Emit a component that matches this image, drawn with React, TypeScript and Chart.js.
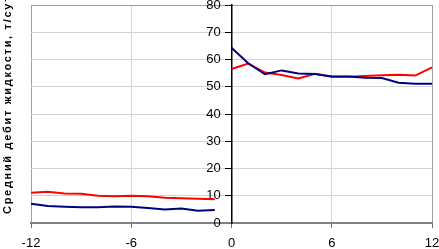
import React, { useEffect, useRef } from "react";
import { Chart, registerables } from "chart.js";

Chart.register(...registerables);

const monthsBefore = [-12, -11, -10, -9, -8, -7, -6, -5, -4, -3, -2, -1];
const redBefore = [11.1, 11.5, 10.8, 10.7, 10.0, 9.8, 10.0, 9.8, 9.3, 9.1, 8.9, 8.7];
const blueBefore = [7.1, 6.2, 6.0, 5.8, 5.8, 6.1, 6.0, 5.5, 5.0, 5.3, 4.5, 4.8];

const monthsAfter = [0, 1, 2, 3, 4, 5, 6, 7, 8, 9, 10, 11, 12];
const redAfter = [56.5, 58.5, 55.2, 54.3, 53.0, 54.8, 53.7, 53.7, 53.9, 54.2, 54.4, 54.1, 57.1];
const blueAfter = [64.3, 58.6, 54.6, 56.0, 54.9, 54.7, 53.8, 53.8, 53.3, 53.2, 51.5, 51.1, 51.1];

const xTicks = [-12, -6, 0, 6, 12];
const yMin = 0;
const yMax = 80;
const yStep = 10;
const yTitle = "Средний дебит жидкости, т/сут";

const RED = "#ff0000";
const BLUE = "#000080";
const FONT = "'Liberation Sans', Arial, sans-serif";

function pts(xs: number[], ys: number[]) {
  return xs.map((x, i) => ({ x, y: ys[i] }));
}

const titlePlugin = {
  id: "leftTitle",
  afterDraw(chart: any) {
    const ctx = chart.ctx;
    ctx.save();
    ctx.translate(8, 214);
    ctx.rotate(-Math.PI / 2);
    ctx.font = `bold 11px ${FONT}`;
    try {
      (ctx as any).letterSpacing = "1.7px";
    } catch (e) {}
    ctx.fillStyle = "#000";
    ctx.textAlign = "left";
    ctx.textBaseline = "middle";
    ctx.fillText(yTitle, 0, 0);
    ctx.restore();
  },
};

export default function App() {
  const ref = useRef<HTMLCanvasElement | null>(null);

  useEffect(() => {
    if (!ref.current) return;
    const lineStyle = {
      borderWidth: 2,
      pointRadius: 0,
      pointHoverRadius: 0,
      tension: 0,
      fill: false,
    };
    const chart = new Chart(ref.current, {
      type: "line",
      data: {
        datasets: [
          { ...lineStyle, data: pts(monthsBefore, blueBefore), borderColor: BLUE },
          { ...lineStyle, data: pts(monthsAfter, blueAfter), borderColor: BLUE },
          { ...lineStyle, data: pts(monthsBefore, redBefore), borderColor: RED },
          { ...lineStyle, data: pts(monthsAfter, redAfter), borderColor: RED },
        ],
      },
      options: {
        responsive: false,
        animation: false,
        events: [],
        layout: {
          autoPadding: false,
          padding: { left: 31, right: 7, top: 5, bottom: 0 },
        },
        plugins: {
          legend: { display: false },
          tooltip: { enabled: false },
          title: { display: false },
        },
        scales: {
          x: {
            type: "linear",
            min: xTicks[0],
            max: xTicks[xTicks.length - 1],
            afterBuildTicks: (scale: any) => {
              scale.ticks = xTicks.map((v) => ({ value: v }));
            },
            afterFit: (scale: any) => {
              scale.height = 26;
              scale.paddingLeft = 0;
              scale.paddingRight = 0;
            },
            ticks: {
              color: "#000",
              font: { family: FONT, size: 13 },
              padding: 8,
              maxRotation: 0,
            },
            grid: {
              color: (c: any) =>
                c.tick && (c.tick.value === -12 || c.tick.value === 12) ? "#a0a0a0" : "#d4d4d4",
              tickColor: "#707070",
              tickLength: 5,
              lineWidth: 1,
            },
            border: { color: "#808080", width: 2 },
          },
          y: {
            type: "linear",
            position: { x: 0 } as any,
            min: yMin,
            max: yMax,
            afterFit: (scale: any) => {
              scale.paddingTop = 0;
              scale.paddingBottom = 0;
            },
            ticks: {
              stepSize: yStep,
              color: "#000",
              font: { family: FONT, size: 13 },
              callback: (v: any) => String(v) + "   ",
            },
            grid: {
              color: (c: any) => (c.tick && c.tick.value === 80 ? "#a0a0a0" : "#d4d4d4"),
              tickColor: "#000",
              tickLength: 6,
              lineWidth: 1,
            },
            border: { color: "#000", width: 1.5 },
          },
        },
      },
      plugins: [titlePlugin],
    });
    return () => chart.destroy();
  }, []);

  return (
    <div style={{ position: "fixed", left: 0, top: 0, width: 439, height: 249, background: "#fff" }}>
      <canvas ref={ref} width={439} height={249} style={{ display: "block" }} />
    </div>
  );
}
